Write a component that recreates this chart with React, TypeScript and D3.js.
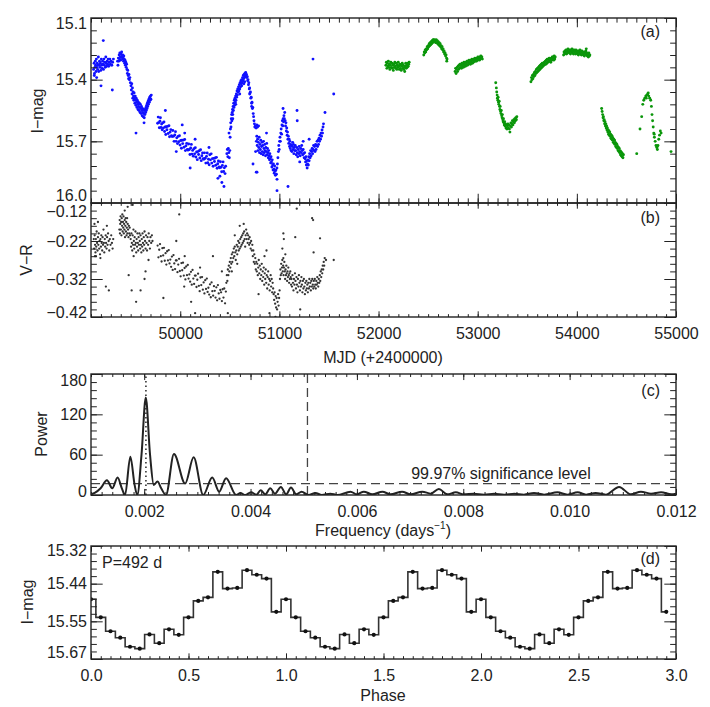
import { useEffect, useRef } from "react";
import * as d3 from "d3";

// ---- panel (a): I-band light curve, [MJD, I-mag] (first season set, blue) ----
const blueI: [number, number][] = [
  [49126, 15.35], [49131, 15.32], [49135, 15.37], [49139, 15.34], [49143, 15.31], [49146, 15.33], [49151, 15.36],
  [49154, 15.3], [49158, 15.34], [49163, 15.32], [49167, 15.35], [49170, 15.33], [49174, 15.29], [49178, 15.36],
  [49183, 15.33], [49186, 15.31], [49191, 15.34], [49195, 15.32], [49199, 15.355], [49204, 15.3], [49208, 15.33],
  [49213, 15.345], [49217, 15.31], [49221, 15.325], [49226, 15.35], [49230, 15.3], [49235, 15.33], [49239, 15.315],
  [49244, 15.34], [49249, 15.29], [49253, 15.32], [49258, 15.335], [49263, 15.31], [49268, 15.325], [49273, 15.3],
  [49279, 15.335], [49284, 15.315], [49290, 15.3], [49296, 15.325], [49303, 15.31], [49310, 15.33], [49318, 15.315],
  [49326, 15.3], [49224, 15.21], [49201, 15.43], [49315, 15.45], [49157, 15.39], [49133, 15.38],
  [49368, 15.31], [49372, 15.33], [49376, 15.295], [49380, 15.31], [49384, 15.28], [49388, 15.3], [49391, 15.27],
  [49395, 15.29], [49398, 15.305], [49402, 15.275], [49406, 15.29], [49409, 15.265], [49413, 15.285], [49417, 15.3],
  [49420, 15.28], [49424, 15.295], [49428, 15.31], [49431, 15.285], [49435, 15.3], [49439, 15.32], [49443, 15.305],
  [49447, 15.33], [49451, 15.315], [49455, 15.34], [49459, 15.325], [49463, 15.35], [49467, 15.37], [49471, 15.355],
  [49475, 15.38], [49479, 15.395], [49483, 15.375], [49487, 15.4], [49492, 15.39], [49497, 15.415],
  [49503, 15.43], [49507, 15.45], [49511, 15.42], [49514, 15.47], [49518, 15.44], [49521, 15.49], [49525, 15.46],
  [49528, 15.48], [49532, 15.5], [49535, 15.465], [49539, 15.49], [49542, 15.515], [49546, 15.48], [49549, 15.5],
  [49553, 15.525], [49556, 15.49], [49560, 15.51], [49563, 15.535], [49567, 15.5], [49570, 15.52], [49574, 15.545],
  [49577, 15.51], [49581, 15.53], [49584, 15.55], [49588, 15.515], [49591, 15.535], [49595, 15.56], [49598, 15.52],
  [49602, 15.54], [49605, 15.565], [49609, 15.53], [49612, 15.55], [49616, 15.575], [49619, 15.54], [49623, 15.56],
  [49626, 15.58], [49630, 15.545], [49633, 15.565], [49637, 15.585], [49640, 15.55], [49644, 15.57], [49647, 15.545],
  [49651, 15.56], [49654, 15.535], [49658, 15.55], [49661, 15.525], [49665, 15.54], [49668, 15.515], [49672, 15.53],
  [49676, 15.505], [49680, 15.52], [49684, 15.495], [49688, 15.51], [49692, 15.485], [49696, 15.5], [49700, 15.48],
  [49704, 15.495], [49708, 15.475], [49635, 15.61], [49554, 15.66],
  [49772, 15.612], [49778, 15.582], [49783, 15.609], [49789, 15.634], [49795, 15.602], [49800, 15.585], [49806, 15.633],
  [49812, 15.616], [49818, 15.644], [49824, 15.61], [49830, 15.635], [49836, 15.606], [49842, 15.652], [49848, 15.63],
  [49854, 15.667], [49860, 15.629], [49866, 15.644], [49873, 15.627], [49879, 15.662], [49886, 15.624], [49892, 15.678],
  [49898, 15.655], [49905, 15.643], [49912, 15.672], [49918, 15.677], [49925, 15.647], [49932, 15.675], [49938, 15.7],
  [49945, 15.669], [49952, 15.653], [49958, 15.7], [49965, 15.683], [49972, 15.711], [49978, 15.676], [49985, 15.702],
  [49992, 15.673], [49998, 15.718], [50005, 15.696], [50012, 15.734], [50018, 15.695], [50025, 15.711], [50032, 15.694],
  [50038, 15.729], [50045, 15.691], [50052, 15.745], [50058, 15.722], [50065, 15.71], [50072, 15.739], [50078, 15.743],
  [50085, 15.713], [50092, 15.74], [50098, 15.764], [50105, 15.732], [50112, 15.715], [50118, 15.762], [50125, 15.744],
  [50132, 15.772], [50138, 15.736], [50145, 15.761], [50152, 15.731], [50158, 15.776], [50165, 15.752], [50172, 15.789],
  [50178, 15.75], [50185, 15.764], [50192, 15.746], [50198, 15.781], [50205, 15.741], [50212, 15.794], [50218, 15.77],
  [50225, 15.757], [50232, 15.784], [50238, 15.787], [50245, 15.756], [50252, 15.782], [50258, 15.806], [50265, 15.773],
  [50272, 15.757], [50278, 15.804], [50285, 15.787], [50292, 15.814], [50298, 15.765], [50305, 15.79], [50312, 15.761],
  [50318, 15.806], [50325, 15.784], [50332, 15.821], [50338, 15.783], [50345, 15.798], [50352, 15.781], [50358, 15.816],
  [50365, 15.778], [50372, 15.831], [50378, 15.809], [50385, 15.796], [50392, 15.825], [50398, 15.829], [50405, 15.799],
  [50412, 15.826], [50418, 15.848], [50425, 15.817], [50432, 15.8], [50438, 15.847], [50445, 15.829], [50452, 15.857],
  [50458, 15.821],
  [49850, 15.55], [50020, 15.62], [50100, 15.83], [50150, 15.69], [50290, 15.73], [50380, 15.88], [50420, 15.9],
  [50441, 15.92], [50400, 15.87], [49960, 15.75], [50045, 15.66],
  [50470, 15.76], [50475, 15.74], [50480, 15.775], [50485, 15.735], [50490, 15.755], [50495, 15.78], [50500, 15.745],
  [50492, 15.66],
  [50503, 15.68], [50506, 15.64], [50509, 15.61], [50512, 15.63], [50515, 15.59], [50518, 15.57], [50521, 15.6],
  [50524, 15.56], [50527, 15.545], [50530, 15.57], [50533, 15.53], [50536, 15.55], [50539, 15.515], [50542, 15.535],
  [50545, 15.5], [50548, 15.525], [50552, 15.49], [50555, 15.51], [50559, 15.48], [50562, 15.5], [50566, 15.47],
  [50569, 15.485], [50573, 15.455], [50576, 15.475], [50580, 15.445], [50584, 15.46], [50588, 15.435], [50592, 15.455],
  [50596, 15.425], [50600, 15.445], [50604, 15.415], [50608, 15.435], [50612, 15.405], [50616, 15.42], [50620, 15.4],
  [50624, 15.415], [50628, 15.39], [50632, 15.405], [50636, 15.38], [50640, 15.395], [50644, 15.375], [50648, 15.39],
  [50652, 15.37], [50656, 15.385], [50660, 15.365], [50664, 15.38], [50668, 15.375], [50672, 15.39], [50676, 15.385],
  [50680, 15.405], [50684, 15.4], [50688, 15.425], [50692, 15.415], [50696, 15.445], [50700, 15.44], [50704, 15.465],
  [50708, 15.46], [50712, 15.49], [50716, 15.485], [50720, 15.515], [50724, 15.51], [50728, 15.54], [50732, 15.535],
  [50736, 15.565], [50740, 15.58], [50744, 15.6], [50748, 15.615], [50752, 15.63], [50758, 15.625], [50765, 15.635],
  [50772, 15.62], [50780, 15.63], [50790, 15.625],
  [50530, 15.59], [50560, 15.52], [50600, 15.47], [50620, 15.43], [50650, 15.41], [50700, 15.47], [50720, 15.53],
  [50642, 15.42],
  [50768, 15.7], [50772, 15.675], [50776, 15.72], [50780, 15.69], [50784, 15.745], [50788, 15.705], [50792, 15.73],
  [50796, 15.68], [50800, 15.755], [50804, 15.715], [50808, 15.74], [50812, 15.695], [50816, 15.76], [50820, 15.725],
  [50824, 15.705], [50828, 15.75], [50832, 15.72], [50836, 15.765], [50840, 15.7], [50844, 15.735], [50848, 15.755],
  [50852, 15.715], [50856, 15.745], [50860, 15.77], [50864, 15.73], [50868, 15.75], [50872, 15.71], [50876, 15.765],
  [50880, 15.735], [50884, 15.755], [50888, 15.78], [50892, 15.745], [50896, 15.77], [50900, 15.79], [50904, 15.76],
  [50908, 15.785], [50912, 15.805], [50916, 15.775], [50920, 15.8], [50924, 15.825], [50928, 15.79], [50932, 15.815],
  [50936, 15.84], [50940, 15.81], [50944, 15.835], [50948, 15.855], [50952, 15.82], [50956, 15.845], [50960, 15.865],
  [50965, 15.84], [50970, 15.86], [50975, 15.83], [50980, 15.81],
  [50734, 15.81], [50774, 15.85], [50976, 15.94], [51087, 15.92], [50976, 15.885], [50870, 15.66], [50760, 15.75],
  [50767, 15.85],
  [50985, 15.78], [50990, 15.75], [50994, 15.72], [50998, 15.74], [51002, 15.7], [51006, 15.68], [51010, 15.7],
  [51014, 15.66], [51018, 15.64], [51022, 15.665], [51026, 15.62], [51030, 15.6], [51034, 15.625], [51038, 15.59],
  [51042, 15.605], [51046, 15.575], [51050, 15.59], [51054, 15.56], [51058, 15.6], [51062, 15.625], [51066, 15.61],
  [51070, 15.65], [51074, 15.635], [51078, 15.67], [51082, 15.655], [51086, 15.69], [51090, 15.675], [51094, 15.71],
  [51098, 15.69], [51102, 15.725], [51106, 15.7], [51110, 15.735], [51114, 15.715], [51118, 15.745], [51122, 15.72],
  [51126, 15.75], [51130, 15.725], [51134, 15.705], [51138, 15.74], [51142, 15.715], [51146, 15.76], [51150, 15.73],
  [51155, 15.745], [51160, 15.72], [51037, 15.54], [51178, 15.55], [51180, 15.6],
  [51165, 15.745], [51170, 15.765], [51175, 15.73], [51180, 15.755], [51185, 15.775], [51190, 15.74], [51195, 15.76],
  [51200, 15.725], [51205, 15.75], [51210, 15.77], [51215, 15.735], [51220, 15.755], [51225, 15.72], [51230, 15.745],
  [51235, 15.765], [51240, 15.74], [51245, 15.76], [51250, 15.78], [51255, 15.755], [51260, 15.785], [51264, 15.8],
  [51268, 15.775], [51272, 15.815], [51276, 15.795], [51280, 15.83], [51284, 15.81], [51288, 15.79], [51292, 15.815],
  [51296, 15.775], [51300, 15.795], [51305, 15.76], [51310, 15.78], [51315, 15.745], [51320, 15.77], [51325, 15.75],
  [51330, 15.735], [51335, 15.76], [51340, 15.74], [51345, 15.72], [51350, 15.745], [51355, 15.725], [51360, 15.75],
  [51365, 15.715], [51370, 15.74], [51375, 15.72], [51380, 15.7], [51385, 15.725], [51390, 15.695], [51395, 15.715],
  [51400, 15.685], [51405, 15.7], [51410, 15.67], [51415, 15.69], [51420, 15.66], [51425, 15.675], [51430, 15.645],
  [51435, 15.66], [51440, 15.63], [51445, 15.615],
  [51339, 15.3], [51548, 15.47], [51460, 15.56], [51240, 15.7], [51300, 15.69], [51205, 15.8],
];

// second data set (green)
const greenI: [number, number][] = [
  [52074, 15.33], [52079, 15.315], [52084, 15.345], [52089, 15.32], [52094, 15.335], [52099, 15.31], [52104, 15.34],
  [52109, 15.325], [52114, 15.35], [52119, 15.33], [52124, 15.315], [52129, 15.34], [52134, 15.32], [52139, 15.345],
  [52144, 15.33], [52149, 15.355], [52154, 15.325], [52159, 15.34], [52164, 15.315], [52169, 15.335], [52174, 15.345],
  [52179, 15.32], [52184, 15.35], [52189, 15.33], [52194, 15.34], [52199, 15.315], [52204, 15.335], [52209, 15.35],
  [52214, 15.325], [52219, 15.345], [52224, 15.33], [52229, 15.355], [52234, 15.335], [52239, 15.32], [52244, 15.345],
  [52249, 15.33], [52254, 15.35], [52259, 15.34], [52264, 15.36], [52269, 15.335], [52274, 15.32], [52279, 15.345],
  [52284, 15.33], [52289, 15.34], [52294, 15.32], [52299, 15.335], [52304, 15.325], [52309, 15.315],
  [52456, 15.28], [52461, 15.265], [52466, 15.27], [52471, 15.255], [52476, 15.265], [52481, 15.25], [52486, 15.255],
  [52491, 15.24], [52496, 15.25], [52501, 15.235], [52506, 15.24], [52511, 15.225], [52516, 15.235], [52521, 15.22],
  [52526, 15.23], [52531, 15.215], [52536, 15.225], [52541, 15.21], [52546, 15.22], [52551, 15.205], [52556, 15.215],
  [52561, 15.205], [52566, 15.215], [52571, 15.21], [52576, 15.22], [52581, 15.205], [52586, 15.22], [52591, 15.21],
  [52596, 15.225], [52601, 15.215], [52606, 15.23], [52611, 15.22], [52616, 15.235], [52621, 15.225], [52626, 15.24],
  [52631, 15.235], [52636, 15.25], [52641, 15.24], [52646, 15.255], [52651, 15.25], [52656, 15.265], [52661, 15.26],
  [52666, 15.275], [52671, 15.27], [52676, 15.285], [52681, 15.28], [52686, 15.295], [52691, 15.3], [52688, 15.31],
  [52772, 15.36], [52777, 15.345], [52782, 15.37], [52787, 15.35], [52792, 15.34], [52797, 15.36], [52802, 15.335],
  [52807, 15.35], [52812, 15.33], [52817, 15.345], [52822, 15.325], [52827, 15.34], [52832, 15.33], [52837, 15.345],
  [52842, 15.32], [52847, 15.335], [52852, 15.325], [52857, 15.34], [52862, 15.315], [52867, 15.33], [52872, 15.32],
  [52877, 15.335], [52882, 15.315], [52887, 15.325], [52892, 15.31], [52897, 15.33], [52902, 15.315], [52907, 15.325],
  [52912, 15.305], [52917, 15.32], [52922, 15.31], [52927, 15.325], [52932, 15.305], [52937, 15.315], [52942, 15.3],
  [52947, 15.32], [52952, 15.305], [52957, 15.315], [52962, 15.3], [52967, 15.31], [52972, 15.295], [52977, 15.31],
  [52982, 15.3], [52987, 15.31], [52992, 15.295], [52997, 15.305], [53002, 15.29], [53007, 15.3], [53012, 15.295],
  [53017, 15.305], [53022, 15.29], [53027, 15.3], [53032, 15.285], [53037, 15.295], [53042, 15.29], [53047, 15.3],
  [53182, 15.415], [53188, 15.44], [53192, 15.46], [53196, 15.475], [53199, 15.49], [53203, 15.5], [53206, 15.485],
  [53210, 15.51], [53213, 15.52], [53217, 15.505], [53220, 15.53], [53224, 15.545], [53227, 15.53], [53231, 15.555],
  [53235, 15.565], [53238, 15.55], [53242, 15.575], [53246, 15.585], [53249, 15.57], [53253, 15.595], [53257, 15.605],
  [53260, 15.59], [53264, 15.61], [53268, 15.62], [53272, 15.605], [53276, 15.625], [53280, 15.615], [53285, 15.635],
  [53290, 15.62], [53295, 15.64], [53300, 15.625], [53305, 15.615], [53310, 15.635], [53315, 15.62], [53320, 15.64],
  [53325, 15.655], [53330, 15.625], [53335, 15.61], [53340, 15.63], [53345, 15.615], [53350, 15.6], [53355, 15.62],
  [53360, 15.605], [53365, 15.595], [53370, 15.61], [53375, 15.59], [53380, 15.6], [53385, 15.585], [53390, 15.595],
  [53395, 15.58],
  [53537, 15.41], [53542, 15.39], [53547, 15.4], [53552, 15.38], [53557, 15.395], [53562, 15.375], [53567, 15.385],
  [53572, 15.365], [53577, 15.38], [53582, 15.36], [53587, 15.37], [53592, 15.35], [53597, 15.365], [53602, 15.345],
  [53607, 15.36], [53612, 15.34], [53617, 15.355], [53622, 15.335], [53627, 15.35], [53632, 15.33], [53637, 15.345],
  [53642, 15.325], [53647, 15.34], [53652, 15.32], [53657, 15.335], [53662, 15.32], [53667, 15.33], [53672, 15.315],
  [53677, 15.325], [53682, 15.31], [53687, 15.325], [53692, 15.305], [53697, 15.32], [53702, 15.3], [53707, 15.315],
  [53712, 15.3], [53717, 15.31], [53722, 15.295], [53727, 15.31], [53732, 15.3], [53737, 15.315], [53742, 15.295],
  [53747, 15.305], [53752, 15.29], [53757, 15.3], [53762, 15.29], [53767, 15.305], [53772, 15.285], [53777, 15.3],
  [53782, 15.29],
  [53866, 15.28], [53871, 15.265], [53876, 15.275], [53881, 15.26], [53886, 15.27], [53891, 15.255], [53896, 15.275],
  [53901, 15.26], [53906, 15.27], [53911, 15.25], [53916, 15.265], [53921, 15.255], [53926, 15.27], [53931, 15.26],
  [53936, 15.275], [53941, 15.255], [53946, 15.265], [53951, 15.25], [53956, 15.27], [53961, 15.26], [53966, 15.275],
  [53971, 15.255], [53976, 15.265], [53981, 15.26], [53986, 15.275], [53991, 15.255], [53996, 15.27], [54001, 15.26],
  [54006, 15.275], [54011, 15.265], [54016, 15.28], [54021, 15.26], [54026, 15.27], [54031, 15.255], [54036, 15.275],
  [54041, 15.265], [54046, 15.28], [54051, 15.26], [54056, 15.275], [54061, 15.265], [54066, 15.28], [54071, 15.27],
  [54076, 15.285], [54081, 15.265], [54086, 15.275], [54091, 15.26], [54096, 15.28], [54101, 15.27], [54106, 15.285],
  [54111, 15.275], [54116, 15.29], [54121, 15.27], [54126, 15.285], [54131, 15.28], [54095, 15.25],
  [54250, 15.54], [54255, 15.555], [54260, 15.57], [54264, 15.585], [54268, 15.58], [54272, 15.6], [54276, 15.595],
  [54280, 15.615], [54284, 15.605], [54288, 15.625], [54292, 15.615], [54296, 15.635], [54300, 15.625], [54304, 15.645],
  [54308, 15.635], [54312, 15.655], [54316, 15.645], [54320, 15.665], [54324, 15.65], [54328, 15.67], [54332, 15.655],
  [54336, 15.675], [54340, 15.665], [54344, 15.685], [54348, 15.67], [54352, 15.69], [54356, 15.675], [54360, 15.695],
  [54364, 15.685], [54368, 15.705], [54372, 15.69], [54376, 15.71], [54380, 15.695], [54384, 15.715], [54388, 15.705],
  [54392, 15.725], [54396, 15.71], [54400, 15.73], [54404, 15.715], [54408, 15.735], [54412, 15.725], [54416, 15.745],
  [54420, 15.73], [54424, 15.75], [54428, 15.735], [54432, 15.755], [54436, 15.745], [54440, 15.765], [54444, 15.75],
  [54448, 15.77], [54452, 15.755], [54456, 15.775], [54460, 15.76], [54465, 15.78], [54470, 15.765],
  [54604, 15.76], [54637, 15.64], [54654, 15.58], [54665, 15.52], [54675, 15.5], [54685, 15.49], [54695, 15.48],
  [54705, 15.475], [54715, 15.47], [54725, 15.48], [54735, 15.49], [54745, 15.5], [54752, 15.53], [54758, 15.57],
  [54764, 15.6], [54770, 15.63], [54776, 15.66], [54782, 15.68], [54790, 15.7], [54798, 15.72], [54806, 15.73],
  [54812, 15.74], [54818, 15.72], [54826, 15.69], [54834, 15.67], [54842, 15.65], [54850, 15.66], [54950, 15.75],
  [54700, 15.49], [54720, 15.465], [54780, 15.665], [54810, 15.725],
];

// ---- panel (b): V-R colour index, [MJD, V-R] ----
const colourVR: [number, number][] = [
  [49128, -0.215], [49132, -0.24], [49137, -0.205], [49141, -0.23], [49145, -0.25], [49149, -0.215], [49153, -0.235],
  [49157, -0.195], [49161, -0.225], [49166, -0.245], [49170, -0.21], [49174, -0.23], [49178, -0.2], [49183, -0.24],
  [49187, -0.22], [49191, -0.255], [49195, -0.215], [49200, -0.235], [49204, -0.205], [49208, -0.225], [49213, -0.245],
  [49217, -0.21], [49221, -0.23], [49226, -0.19], [49230, -0.225], [49234, -0.25], [49239, -0.215], [49243, -0.235],
  [49248, -0.205], [49252, -0.225], [49257, -0.24], [49262, -0.21], [49267, -0.23], [49272, -0.2], [49278, -0.22],
  [49284, -0.245], [49290, -0.215], [49297, -0.23], [49304, -0.205], [49311, -0.225], [49318, -0.24], [49324, -0.215],
  [49150, -0.26], [49170, -0.17], [49260, -0.18], [49250, -0.34], [49280, -0.35], [49140, -0.26], [49195, -0.265],
  [49135, -0.175],
  [49386, -0.19], [49389, -0.165], [49392, -0.2], [49395, -0.175], [49398, -0.155], [49401, -0.19], [49404, -0.17],
  [49407, -0.205], [49410, -0.16], [49413, -0.18], [49416, -0.15], [49419, -0.195], [49422, -0.17], [49425, -0.185],
  [49428, -0.155], [49431, -0.2], [49434, -0.175], [49437, -0.19], [49440, -0.165], [49443, -0.21], [49446, -0.18],
  [49449, -0.16], [49452, -0.195], [49455, -0.17], [49458, -0.205], [49461, -0.185], [49464, -0.16], [49467, -0.2],
  [49470, -0.175], [49474, -0.19], [49478, -0.21], [49482, -0.18], [49486, -0.2], [49490, -0.185], [49494, -0.205],
  [49520, -0.125], [49470, -0.13], [49480, -0.31], [49510, -0.35], [49440, -0.14],
  [49500, -0.215], [49504, -0.235], [49508, -0.2], [49512, -0.225], [49516, -0.245], [49520, -0.205], [49524, -0.23],
  [49528, -0.19], [49532, -0.22], [49536, -0.24], [49540, -0.21], [49544, -0.23], [49548, -0.195], [49552, -0.225],
  [49556, -0.25], [49560, -0.215], [49564, -0.235], [49568, -0.2], [49572, -0.225], [49576, -0.245], [49580, -0.21],
  [49584, -0.23], [49588, -0.2], [49592, -0.22], [49596, -0.24], [49600, -0.205], [49604, -0.23], [49608, -0.25],
  [49612, -0.215], [49616, -0.235], [49620, -0.2], [49624, -0.225], [49628, -0.245], [49632, -0.21], [49636, -0.23],
  [49640, -0.195], [49645, -0.22], [49650, -0.24], [49655, -0.205], [49660, -0.225], [49665, -0.245], [49670, -0.21],
  [49676, -0.23], [49682, -0.2], [49688, -0.22], [49694, -0.24], [49700, -0.21], [49707, -0.225], [49714, -0.205],
  [49720, -0.22], [49600, -0.35], [49640, -0.32], [49555, -0.38], [49680, -0.27], [49650, -0.3], [49530, -0.26],
  [49772, -0.232], [49780, -0.263], [49788, -0.243], [49796, -0.228], [49804, -0.26], [49812, -0.274], [49820, -0.239],
  [49828, -0.258], [49836, -0.238], [49844, -0.272], [49852, -0.252], [49860, -0.282], [49868, -0.247], [49876, -0.271],
  [49884, -0.244], [49892, -0.279], [49900, -0.269], [49908, -0.288], [49916, -0.261], [49924, -0.296], [49932, -0.257],
  [49940, -0.279], [49948, -0.294], [49956, -0.271], [49964, -0.271], [49972, -0.302], [49980, -0.282], [49988, -0.267],
  [49996, -0.299], [50004, -0.313], [50012, -0.278], [50020, -0.297], [50028, -0.277], [50036, -0.311], [50044, -0.291],
  [50052, -0.321], [50060, -0.287], [50068, -0.31], [50076, -0.283], [50084, -0.319], [50092, -0.308], [50100, -0.327],
  [50108, -0.301], [50116, -0.335], [50124, -0.296], [50132, -0.319], [50140, -0.333], [50148, -0.311], [50156, -0.311],
  [50164, -0.341], [50172, -0.322], [50180, -0.306], [50188, -0.338], [50196, -0.352], [50204, -0.316], [50212, -0.336],
  [50220, -0.315], [50228, -0.348], [50236, -0.329], [50244, -0.358], [50252, -0.323], [50260, -0.346], [50268, -0.319],
  [50276, -0.354], [50284, -0.343], [50292, -0.361], [50300, -0.334], [50308, -0.368], [50316, -0.329], [50324, -0.352],
  [50332, -0.364], [50340, -0.339], [50348, -0.351], [50356, -0.369], [50364, -0.342], [50372, -0.376], [50380, -0.336],
  [50388, -0.358], [50396, -0.372], [50404, -0.349], [50412, -0.355], [50420, -0.378], [50428, -0.347], [50436, -0.369],
  [50444, -0.345], [50452, -0.384], [50460, -0.353],
  [49960, -0.22], [50045, -0.26], [49990, -0.15], [50330, -0.26], [50200, -0.29], [50420, -0.3], [50150, -0.41],
  [50480, -0.41], [50110, -0.38], [49830, -0.37], [50040, -0.34],
  [50465, -0.33], [50470, -0.31], [50475, -0.325], [50480, -0.295], [50485, -0.31], [50490, -0.285], [50495, -0.3],
  [50500, -0.275], [50505, -0.29], [50510, -0.265], [50515, -0.28], [50520, -0.255], [50525, -0.275], [50530, -0.25],
  [50535, -0.265], [50540, -0.24], [50545, -0.26], [50550, -0.235], [50555, -0.25], [50560, -0.27], [50565, -0.245],
  [50570, -0.23], [50575, -0.255], [50580, -0.235], [50585, -0.22], [50590, -0.245], [50595, -0.225], [50600, -0.24],
  [50605, -0.215], [50610, -0.235], [50615, -0.21], [50620, -0.23], [50625, -0.205], [50630, -0.225], [50635, -0.2],
  [50640, -0.22], [50645, -0.195], [50650, -0.215], [50655, -0.235], [50660, -0.205], [50665, -0.19], [50670, -0.215],
  [50675, -0.2], [50680, -0.225], [50685, -0.205], [50690, -0.215], [50695, -0.23], [50700, -0.21], [50705, -0.225],
  [50710, -0.24], [50715, -0.22], [50600, -0.18], [50550, -0.205], [50640, -0.175], [50520, -0.3], [50575, -0.28],
  [50722, -0.245], [50727, -0.23], [50732, -0.26], [50737, -0.245], [50742, -0.275], [50747, -0.255], [50752, -0.28],
  [50757, -0.265], [50762, -0.295], [50767, -0.275], [50772, -0.3], [50777, -0.28], [50782, -0.31], [50787, -0.29],
  [50792, -0.27], [50797, -0.305], [50802, -0.285], [50807, -0.32], [50812, -0.295], [50817, -0.31], [50822, -0.28],
  [50827, -0.325], [50832, -0.3], [50837, -0.315], [50842, -0.29], [50847, -0.335], [50852, -0.305], [50857, -0.32],
  [50862, -0.295], [50867, -0.33], [50872, -0.31], [50877, -0.345], [50882, -0.315], [50887, -0.3], [50892, -0.335],
  [50897, -0.32], [50902, -0.35], [50907, -0.325], [50912, -0.31], [50917, -0.34], [50922, -0.32], [50927, -0.355],
  [50932, -0.33], [50937, -0.345],
  [50942, -0.36], [50947, -0.375], [50952, -0.355], [50957, -0.385], [50962, -0.365], [50967, -0.395], [50972, -0.37],
  [50977, -0.4], [50982, -0.38], [50987, -0.36], [50992, -0.39], [50997, -0.37], [51002, -0.35],
  [50870, -0.245], [51040, -0.2], [51045, -0.215], [51160, -0.21], [51175, -0.135], [50900, -0.41], [50960, -0.42],
  [50790, -0.36], [50850, -0.26],
  [51006, -0.32], [51010, -0.295], [51014, -0.31], [51018, -0.28], [51022, -0.305], [51026, -0.29], [51030, -0.27],
  [51034, -0.3], [51038, -0.285], [51042, -0.31], [51046, -0.29], [51050, -0.275], [51054, -0.3], [51058, -0.32],
  [51062, -0.295], [51066, -0.31], [51070, -0.285], [51074, -0.305], [51078, -0.325], [51082, -0.3], [51086, -0.315],
  [51090, -0.29], [51094, -0.31], [51098, -0.33], [51102, -0.305], [51106, -0.32], [51110, -0.3], [51114, -0.315],
  [51118, -0.335], [51040, -0.265], [51060, -0.255], [51030, -0.24],
  [51122, -0.32], [51127, -0.34], [51132, -0.31], [51137, -0.33], [51142, -0.35], [51147, -0.32], [51152, -0.335],
  [51157, -0.305], [51162, -0.325], [51167, -0.345], [51172, -0.315], [51177, -0.335], [51182, -0.355], [51187, -0.32],
  [51192, -0.34], [51197, -0.31], [51202, -0.33], [51207, -0.35], [51212, -0.325], [51217, -0.34], [51222, -0.315],
  [51227, -0.335], [51232, -0.355], [51237, -0.325], [51242, -0.345], [51247, -0.32], [51252, -0.34], [51257, -0.36],
  [51262, -0.33], [51267, -0.35], [51272, -0.325], [51277, -0.345], [51282, -0.335], [51287, -0.355], [51292, -0.33],
  [51297, -0.345], [51302, -0.32], [51307, -0.34], [51312, -0.33], [51317, -0.35], [51322, -0.325], [51327, -0.34],
  [51332, -0.32], [51337, -0.335], [51342, -0.345], [51347, -0.325], [51352, -0.34], [51357, -0.32], [51362, -0.335],
  [51367, -0.345], [51372, -0.325], [51377, -0.335], [51382, -0.315], [51387, -0.33], [51392, -0.34], [51397, -0.32],
  [51402, -0.33], [51407, -0.31], [51412, -0.325], [51417, -0.3], [51422, -0.315], [51427, -0.295], [51432, -0.305],
  [51437, -0.285], [51442, -0.295], [51447, -0.275], [51452, -0.285], [51457, -0.265],
  [51330, -0.16], [51340, -0.165], [51345, -0.25], [51410, -0.213], [51548, -0.27], [51210, -0.4], [51470, -0.27],
];

// ---- panel (c): periodogram ----
const freq = [
  0.001, 0.00107, 0.00118, 0.0013, 0.0014, 0.0015, 0.00158, 0.00164, 0.00174, 0.00182, 0.00187, 0.00195, 0.00203,
  0.00211, 0.00218, 0.00225, 0.00232, 0.00241, 0.00256, 0.00277, 0.00293, 0.00311, 0.00328, 0.00341, 0.00354,
  0.00373, 0.00381, 0.0039, 0.00401, 0.00411, 0.00419, 0.00428, 0.00437, 0.00446, 0.00457, 0.00467, 0.00476,
  0.00486, 0.00496, 0.00509, 0.00522, 0.00534, 0.0055, 0.00563, 0.00588, 0.006, 0.00613, 0.00629, 0.00648, 0.00663,
  0.00685, 0.00701, 0.00723, 0.00739, 0.00754, 0.0077, 0.00786, 0.00801, 0.0082, 0.00839, 0.00858, 0.00877, 0.00896,
  0.00914, 0.00933, 0.00952, 0.00977, 0.00996, 0.01015, 0.01031, 0.01049, 0.01068, 0.01093, 0.01115, 0.01134,
  0.01153, 0.01172, 0.01191, 0.012,
];
const power = [
  1, 3, 10, 22, 10, 26, 10, 0, 57, 15, 0, 60, 145,
  60, 15, 20, 10, 0, 61, 17, 56, 0, 26, 5, 25,
  0, 3, 0, 4, 0.5, 7, 1, 10, 2, 12, 1, 11,
  1, 5, 0, 3, 0, 2, 0, 5, 1, 5, 1, 5, 1,
  5, 1, 5, 2, 9, 1, 4, 1, 2, 0.5, 2, 0.5, 2,
  0.5, 3, 0.5, 4, 0.5, 4, 0.5, 3, 0.5, 12, 1, 5,
  2, 4, 1, 2,
];
const bestFreq = 1 / 492;
const cutFreq = 0.00507;
const sigLevel = 17;

// ---- panel (d): folded light curve, P = 492 d ----
const foldPhase = [0, 0.05, 0.1, 0.15, 0.2, 0.25, 0.3, 0.35, 0.4, 0.45, 0.5, 0.55, 0.6, 0.65, 0.7, 0.75, 0.8, 0.85, 0.9, 0.95];
const foldMag = [
  15.485, 15.541, 15.584, 15.604, 15.632, 15.638, 15.594, 15.621, 15.578, 15.595,
  15.541, 15.49, 15.479, 15.4, 15.452, 15.45, 15.395, 15.409, 15.421, 15.524,
];
const cycles = [0, 1, 2];

// ---- tick labels ----
const mjdTicks = [50000, 51000, 52000, 53000, 54000, 55000];
const imagTicks = [15.1, 15.4, 15.7, 16.0];
const vrTicks = [-0.12, -0.22, -0.32, -0.42];
const freqTicks = [0.002, 0.004, 0.006, 0.008, 0.01, 0.012];
const powerTicks = [0, 60, 120, 180];
const phaseTicks = [0, 0.5, 1, 1.5, 2, 2.5, 3];
const foldTicks = [15.32, 15.32 + 0.35 / 3, 15.32 + 0.7 / 3, 15.67];

const INK = "#222";
const FONT = "'Liberation Sans', Arial, sans-serif";

type Lin = d3.ScaleLinear<number, number>;
type Svg = d3.Selection<SVGSVGElement, unknown, null, undefined>;

function frame(
  svg: Svg,
  x: Lin,
  y: Lin,
  o: {
    xMajor: number[];
    xMinor: number[];
    yMajor: number[];
    yMinor: number[];
    xLabels: boolean;
    xFmt: (d: number) => string;
    yFmt: (d: number) => string;
    endShift?: [number, number];
  }
) {
  const [x0, x1] = x.range();
  const yTop = Math.min(...y.range());
  const yBot = Math.max(...y.range());
  const xLen = (yBot - yTop) * 0.05;
  const yLen = (x1 - x0) * 0.02;
  const [topShift, botShift] = o.endShift ?? [5, -5];
  const g = svg.append("g").attr("color", INK);

  const styleAxis = (a: d3.Selection<SVGGElement, unknown, null, undefined>) => {
    a.select(".domain").remove();
    a.attr("font-family", FONT).attr("font-size", 16);
    a.selectAll("text").attr("fill", INK);
  };

  // minor ticks on all four sides
  g.append("g").attr("transform", `translate(0,${yBot})`)
    .call(d3.axisBottom(x).tickValues(o.xMinor).tickSize(-xLen / 2).tickFormat(() => "")).call(styleAxis);
  g.append("g").attr("transform", `translate(0,${yTop})`)
    .call(d3.axisTop(x).tickValues(o.xMinor).tickSize(-xLen / 2).tickFormat(() => "")).call(styleAxis);
  g.append("g").attr("transform", `translate(${x0},0)`)
    .call(d3.axisLeft(y).tickValues(o.yMinor).tickSize(-yLen / 2).tickFormat(() => "")).call(styleAxis);
  g.append("g").attr("transform", `translate(${x1},0)`)
    .call(d3.axisRight(y).tickValues(o.yMinor).tickSize(-yLen / 2).tickFormat(() => "")).call(styleAxis);

  // major ticks
  g.append("g").attr("transform", `translate(0,${yBot})`)
    .call(d3.axisBottom(x).tickValues(o.xMajor).tickSize(-xLen).tickPadding(11)
      .tickFormat((d) => (o.xLabels ? o.xFmt(d as number) : ""))).call(styleAxis);
  g.append("g").attr("transform", `translate(0,${yTop})`)
    .call(d3.axisTop(x).tickValues(o.xMajor).tickSize(-xLen).tickFormat(() => "")).call(styleAxis);
  const left = g.append("g").attr("transform", `translate(${x0},0)`)
    .call(d3.axisLeft(y).tickValues(o.yMajor).tickSize(-yLen).tickPadding(4)
      .tickFormat((d) => o.yFmt(d as number))).call(styleAxis);
  // labels at the ends of the axis sit a little inside the frame
  left.selectAll<SVGTextElement, number>("text").attr("y", (d) => {
    const p = y(d);
    if (Math.abs(p - yTop) < 1) return topShift;
    if (Math.abs(p - yBot) < 1) return botShift;
    return 0;
  });
  g.append("g").attr("transform", `translate(${x1},0)`)
    .call(d3.axisRight(y).tickValues(o.yMajor).tickSize(-yLen).tickFormat(() => "")).call(styleAxis);

  g.append("rect")
    .attr("x", x0).attr("y", yTop).attr("width", x1 - x0).attr("height", yBot - yTop)
    .attr("fill", "none").attr("stroke", INK).attr("stroke-width", 1.4);
}

function clip(svg: Svg, id: string, x: Lin, y: Lin) {
  const [x0, x1] = x.range();
  const yTop = Math.min(...y.range());
  const yBot = Math.max(...y.range());
  svg.append("clipPath").attr("id", id).append("rect")
    .attr("x", x0).attr("y", yTop).attr("width", x1 - x0).attr("height", yBot - yTop);
  return svg.append("g").attr("clip-path", `url(#${id})`);
}

function label(svg: Svg, text: string, x: number, y: number, anchor = "middle", rotate = false) {
  const t = svg.append("text")
    .attr("font-family", FONT).attr("font-size", 16).attr("fill", INK)
    .attr("text-anchor", anchor).text(text);
  if (rotate) t.attr("transform", `translate(${x},${y}) rotate(-90)`).attr("dy", "0.35em");
  else t.attr("x", x).attr("y", y);
  return t;
}

export default function App() {
  const ref = useRef<SVGSVGElement>(null);

  useEffect(() => {
    if (!ref.current) return;
    const svg = d3.select(ref.current);
    svg.selectAll("*").remove();

    const xMjd = d3.scaleLinear().domain([49100, 55000]).range([91, 676]);
    const yA = d3.scaleLinear().domain([15.1, 16.0]).range([18, 203]);
    const yB = d3.scaleLinear().domain([-0.12, -0.42]).range([203, 317]);
    const xF = d3.scaleLinear().domain([0.001, 0.012]).range([91, 676]);
    const yC = d3.scaleLinear().domain([0, 180]).range([495, 374]);
    const xP = d3.scaleLinear().domain([0, 3]).range([91, 676]);
    const yD = d3.scaleLinear().domain([15.32, 15.67]).range([546, 659]);

    const mjdMinor = d3.range(49100, 55001, 100);

    // (a) I-band light curve
    const pa = clip(svg, "clipA", xMjd, yA);
    pa.append("g").selectAll("circle").data(blueI).join("circle")
      .attr("cx", (d) => xMjd(d[0])).attr("cy", (d) => yA(d[1])).attr("r", 1.45).attr("fill", "#1010ff");
    pa.append("g").selectAll("circle").data(greenI).join("circle")
      .attr("cx", (d) => xMjd(d[0])).attr("cy", (d) => yA(d[1])).attr("r", 1.45).attr("fill", "#0a960a");
    frame(svg, xMjd, yA, {
      xMajor: mjdTicks, xMinor: mjdMinor, yMajor: imagTicks, yMinor: d3.range(15.1, 16.001, 0.06),
      xLabels: false, xFmt: String, yFmt: (d) => d.toFixed(1), endShift: [5, -8],
    });

    // (b) V-R colour
    const pb = clip(svg, "clipB", xMjd, yB);
    pb.selectAll("circle").data(colourVR).join("circle")
      .attr("cx", (d) => xMjd(d[0])).attr("cy", (d) => yB(d[1])).attr("r", 1.15).attr("fill", "#333");
    frame(svg, xMjd, yB, {
      xMajor: mjdTicks, xMinor: mjdMinor, yMajor: vrTicks, yMinor: d3.range(-0.12, -0.4201, -0.02),
      xLabels: true, xFmt: String, yFmt: (d) => d.toFixed(2).replace("-", "\u2212"), endShift: [8, -5],
    });

    // (c) periodogram
    const pc = clip(svg, "clipC", xF, yC);
    const [fx0, fx1] = xF.range();
    pc.append("line")
      .attr("x1", fx0).attr("x2", fx1).attr("y1", yC(sigLevel)).attr("y2", yC(sigLevel))
      .attr("stroke", "#444").attr("stroke-width", 1.3).attr("stroke-dasharray", "9,5");
    pc.append("line")
      .attr("x1", xF(cutFreq)).attr("x2", xF(cutFreq)).attr("y1", yC(0)).attr("y2", yC(180))
      .attr("stroke", "#444").attr("stroke-width", 1.3).attr("stroke-dasharray", "9,5");
    pc.append("line")
      .attr("x1", xF(bestFreq)).attr("x2", xF(bestFreq)).attr("y1", yC(0)).attr("y2", yC(180))
      .attr("stroke", "#333").attr("stroke-width", 1.6).attr("stroke-dasharray", "1.5,3");
    const spec = d3.line<number>()
      .x((_, i) => xF(freq[i]))
      .y((d) => yC(d))
      .curve(d3.curveMonotoneX);
    pc.append("path").attr("d", spec(power)).attr("fill", "none").attr("stroke", INK).attr("stroke-width", 2);
    frame(svg, xF, yC, {
      xMajor: freqTicks, xMinor: d3.range(0.001, 0.01201, 0.0002), yMajor: powerTicks, yMinor: d3.range(0, 181, 12),
      xLabels: true, xFmt: (d) => d.toFixed(3), yFmt: (d) => String(d), endShift: [6, -4],
    });
    label(svg, "99.97% significance level", 501, 479);

    // (d) folded light curve
    const folded = cycles.flatMap((c) => foldPhase.map((p, i) => [p + c, foldMag[i]] as [number, number]));
    const pd = clip(svg, "clipD", xP, yD);
    const stepLine = d3.line<[number, number]>()
      .x((d) => xP(d[0])).y((d) => yD(d[1])).curve(d3.curveStep);
    pd.append("path").attr("d", stepLine(folded)).attr("fill", "none").attr("stroke", "#333").attr("stroke-width", 1.6);
    pd.selectAll("circle").data(folded).join("circle")
      .attr("cx", (d) => xP(d[0])).attr("cy", (d) => yD(d[1])).attr("r", 2.1).attr("fill", "#111");
    frame(svg, xP, yD, {
      xMajor: phaseTicks, xMinor: d3.range(0, 3.001, 0.05), yMajor: foldTicks, yMinor: d3.range(15.32, 15.671, 0.35 / 15),
      xLabels: true, xFmt: (d) => d.toFixed(1), yFmt: (d) => d.toFixed(2), endShift: [4, -7],
    });
    label(svg, "P=492 d", 102, 568, "start");

    // panel tags
    label(svg, "(a)", 660, 37, "end");
    label(svg, "(b)", 660, 223, "end");
    label(svg, "(c)", 660, 396, "end");
    label(svg, "(d)", 660, 564, "end");

    // axis titles
    label(svg, "I\u2212mag", 37.5, 111, "middle", true);
    label(svg, "V\u2212R", 26, 260, "middle", true);
    label(svg, "Power", 41, 434, "middle", true);
    label(svg, "I\u2212mag", 27.5, 602, "middle", true);
    label(svg, "MJD (+2400000)", 383, 363);
    const fl = label(svg, "Frequency (days", 383, 536);
    fl.append("tspan").attr("font-size", 10).attr("dy", -7).text("\u22121");
    fl.append("tspan").attr("dy", 7).text(")");
    label(svg, "Phase", 383, 701);
  }, []);

  return (
    <div style={{ position: "absolute", left: 0, top: 0 }}>
      <svg ref={ref} width={710} height={707} style={{ display: "block", background: "#fff" }} />
    </div>
  );
}
